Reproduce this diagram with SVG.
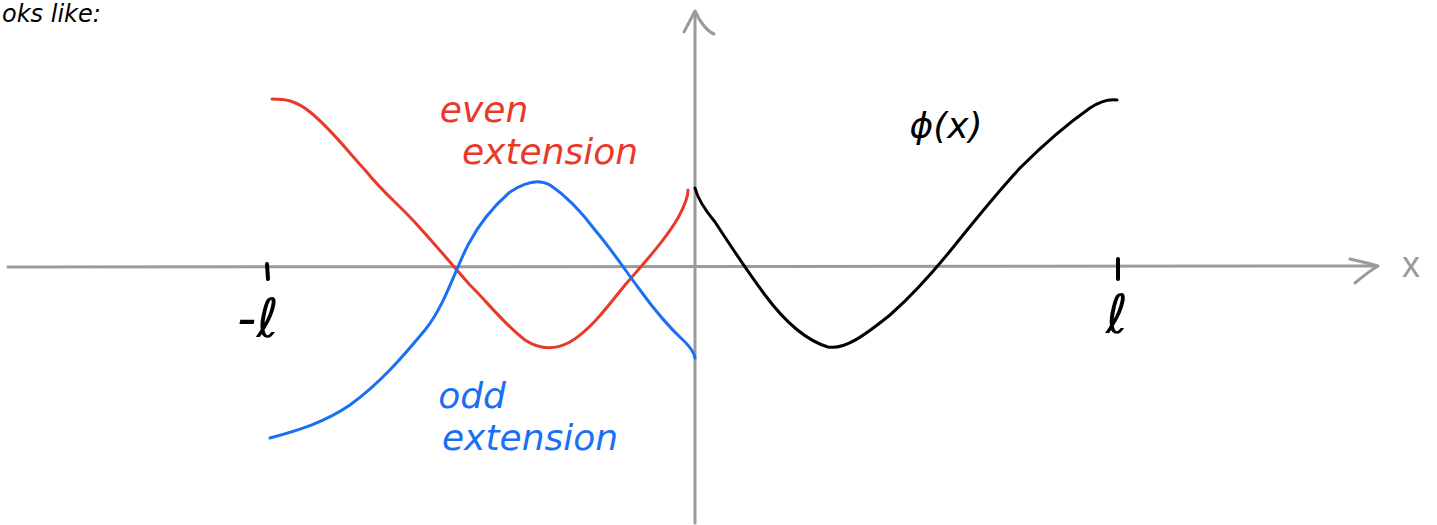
<svg xmlns="http://www.w3.org/2000/svg" width="1437" height="525" viewBox="0 0 1437 525">
<style>
.axis{fill:none;stroke:#9a9a9a;stroke-width:3;stroke-linecap:round;stroke-linejoin:round}
.curve{fill:none;stroke-width:3;stroke-linecap:round;stroke-linejoin:round}
.tick{stroke:#000;stroke-width:4;stroke-linecap:round}
.lbl{font-family:"DejaVu Sans","Liberation Sans",sans-serif;font-style:italic}
</style>
<rect width="1437" height="525" fill="#fff"/>
<text class="lbl" x="2" y="22" font-size="24" fill="#000">oks like:</text>
<g id="connectors">
<g id="x-axis">
<path class="axis" d="M8,267 L1375,266"/>
<path class="axis" d="M1350,259 Q1368,263 1378,266 Q1368,272 1355,283"/>
</g>
<g id="y-axis">
<path class="axis" d="M695,523 L695,12"/>
<path class="axis" d="M684,32 L695,11 Q704,30 714,34"/>
</g>
</g>
<g id="x-label"><text x="1411" y="277" font-family="Liberation Sans, sans-serif" font-size="36" fill="#9a9a9a" text-anchor="middle">x</text></g>
<g id="tick-neg"><line class="tick" x1="267" y1="264" x2="268" y2="279"/></g>
<g id="tick-pos"><line class="tick" x1="1118" y1="259" x2="1118" y2="279"/></g>
<g id="label-neg-l"><text class="lbl" x="258" y="337" font-size="54" fill="#000" text-anchor="middle">-ℓ</text></g>
<g id="label-l"><text class="lbl" x="1117" y="333" font-size="54" fill="#000" text-anchor="middle">ℓ</text></g>
<g id="even-extension">
<path class="curve" stroke="#e8392a" d="M272,99 C285,99 295,100 310,112 C330,128 345,148 365,170 C385,195 400,205 420,228 C440,250 455,268 470,285 C490,305 505,325 525,340 C540,350 555,350 570,342 C590,330 605,310 625,285 C645,262 665,240 678,218 C684,207 688,198 688,190"/>
<text class="lbl" x="484" y="122" font-size="36" fill="#e8392a" text-anchor="middle">even</text>
<text class="lbl" x="550" y="164" font-size="36" fill="#e8392a" text-anchor="middle">extension</text>
</g>
<g id="odd-extension">
<path class="curve" stroke="#1a6ff5" d="M270,438 C300,430 325,422 350,405 C380,383 400,360 425,330 C445,305 455,270 468,245 C480,222 495,205 510,192 C525,182 538,178 550,185 C565,195 580,210 595,230 C612,250 625,270 640,290 C658,315 672,330 685,342 C691,348 694,352 695,358"/>
<text class="lbl" x="472" y="408" font-size="36" fill="#1a6ff5" text-anchor="middle">odd</text>
<text class="lbl" x="530" y="450" font-size="36" fill="#1a6ff5" text-anchor="middle">extension</text>
</g>
<g id="phi">
<path class="curve" stroke="#000" d="M695,188 C698,200 705,210 715,222 C730,245 745,268 765,295 C785,322 805,340 828,347 C845,350 865,335 890,315 C915,293 935,270 955,245 C975,220 995,195 1020,168 C1045,143 1070,122 1090,108 C1102,100 1110,99 1117,100"/>
<text class="lbl" x="946" y="138" font-size="36" fill="#000" text-anchor="middle">ϕ(x)</text>
</g>
</svg>
